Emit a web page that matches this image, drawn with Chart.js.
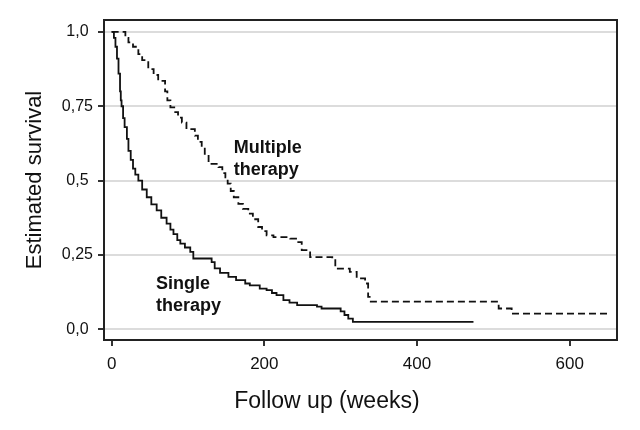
<!DOCTYPE html>
<html><head><meta charset="utf-8">
<script src="https://cdn.jsdelivr.net/npm/chart.js@4"></script>
<style>html,body{margin:0;padding:0;background:#fff}#wrap{width:640px;height:430px}</style>
</head><body><div id="wrap"><canvas id="c" width="640" height="430"></canvas></div>
<script>
// Single therapy Kaplan-Meier steps (week, survival)
const singleWeeks = [0,3,5,7,9,11,12,13,15,17,20,22,25,28,31,35,40,46,52,59,65,72,77,81,86,90,96,103,107,131,135,142,153,163,175,181,194,203,210,216,225,233,243,269,275,300,305,310,316,474];
const singleSurvival = [1.0,0.98,0.95,0.91,0.86,0.80,0.77,0.75,0.71,0.68,0.64,0.60,0.57,0.54,0.52,0.50,0.47,0.444,0.42,0.40,0.375,0.355,0.335,0.32,0.30,0.288,0.275,0.26,0.238,0.226,0.205,0.19,0.176,0.165,0.154,0.148,0.137,0.132,0.122,0.115,0.098,0.09,0.081,0.076,0.07,0.06,0.048,0.036,0.025,0.025];
// Multiple therapy Kaplan-Meier steps (week, survival)
const multipleWeeks = [0,18,22,28,35,40,48,55,61,70,73,77,82,87,92,98,109,113,118,122,127,140,145,149,152,156,160,166,172,179,185,192,197,203,212,234,243,249,260,289,293,312,321,332,336,338,507,524,651];
const multipleSurvival = [1.0,0.98,0.965,0.95,0.925,0.905,0.875,0.855,0.835,0.80,0.77,0.746,0.73,0.712,0.695,0.673,0.651,0.63,0.612,0.59,0.556,0.545,0.525,0.511,0.49,0.465,0.444,0.422,0.405,0.389,0.37,0.344,0.33,0.316,0.31,0.305,0.293,0.266,0.243,0.238,0.204,0.193,0.171,0.154,0.109,0.093,0.07,0.053,0.053];
const seriesNames = ["Single therapy","Multiple therapy"];
const xTicks = [0,200,400,600];
const yTicks = [0,0.25,0.5,0.75,1.0];
const yTickLabels = ["0,0","0,25","0,5","0,75","1,0"];
const xTitle = "Follow up (weeks)";
const yTitle = "Estimated survival";

const FONT = "'Liberation Sans', Arial, Helvetica, sans-serif";

const toPts = (xs, ys) => xs.map((x,i)=>({x:x, y:ys[i]}));

const framePlugin = {
  id:'frame',
  afterDatasetsDraw(chart){
    const {ctx, chartArea:a, scales} = chart;
    ctx.save();
    const X = scales.x, Y = scales.y;
    // curve labels
    ctx.fillStyle = '#111';
    ctx.font = "bold 18px " + FONT;
    ctx.textAlign = 'left';
    ctx.textBaseline = 'alphabetic';
    ctx.fillText('Multiple', X.getPixelForValue(160), Y.getPixelForValue(0.594));
    ctx.fillText('therapy', X.getPixelForValue(160), Y.getPixelForValue(0.52));
    ctx.fillText('Single', X.getPixelForValue(58), Y.getPixelForValue(0.137));
    ctx.fillText('therapy', X.getPixelForValue(58), Y.getPixelForValue(0.062));
    // x axis title
    ctx.font = "23px " + FONT;
    ctx.textAlign = 'center';
    ctx.textBaseline = 'alphabetic';
    ctx.fillText(xTitle, X.getPixelForValue(282), 408);
    // frame
    ctx.strokeStyle = '#222';
    ctx.lineWidth = 2;
    ctx.strokeRect(a.left, a.top, a.right - a.left, a.bottom - a.top);
    ctx.restore();
  }
};

new Chart(document.getElementById('c'), {
  type:'line',
  data:{
    datasets:[
      {label:seriesNames[0], data:toPts(singleWeeks, singleSurvival), stepped:'before', borderColor:'#111', borderWidth:1.8, pointRadius:0, fill:false},
      {label:seriesNames[1], data:toPts(multipleWeeks, multipleSurvival), stepped:'before', borderColor:'#111', borderWidth:1.8, borderDash:[7,4], pointRadius:0, fill:false}
    ]
  },
  options:{
    responsive:false,
    animation:false,
    devicePixelRatio:1,
    layout:{padding:{top:20, right:23, left:0, bottom:0}},
    plugins:{legend:{display:false}, tooltip:{enabled:false}},
    scales:{
      x:{
        type:'linear', min:-10, max:662,
        afterBuildTicks: s => { s.ticks = xTicks.map(v=>({value:v})); },
        afterFit: s => { s.height = 90; },
        grid:{drawOnChartArea:false, drawTicks:true, tickLength:6, color:'#333', lineWidth:2},
        border:{display:false},
        ticks:{color:'#111', font:{family:FONT, size:17}, padding:8, maxRotation:0, autoSkip:false},
        title:{display:false}
      },
      y:{
        type:'linear', min:-0.036, max:1.04,
        afterBuildTicks: s => { s.ticks = yTicks.map(v=>({value:v})); },
        afterFit: s => { s.width = 104; },
        grid:{color:'#dcdcdc', lineWidth:2, tickColor:'#333', tickLength:6, tickWidth:2, drawTicks:true},
        border:{display:false},
        ticks:{color:'#111', font:{family:FONT, size:16}, padding:5, crossAlign:'center', autoSkip:false,
          callback: (v) => { const i = yTicks.indexOf(v); return i >= 0 ? yTickLabels[i] : ''; }},
        title:{display:true, text:yTitle, color:'#111', font:{family:FONT, size:22}, padding:{top:22, bottom:0}}
      }
    }
  },
  plugins:[framePlugin]
});
</script>
</body></html>
